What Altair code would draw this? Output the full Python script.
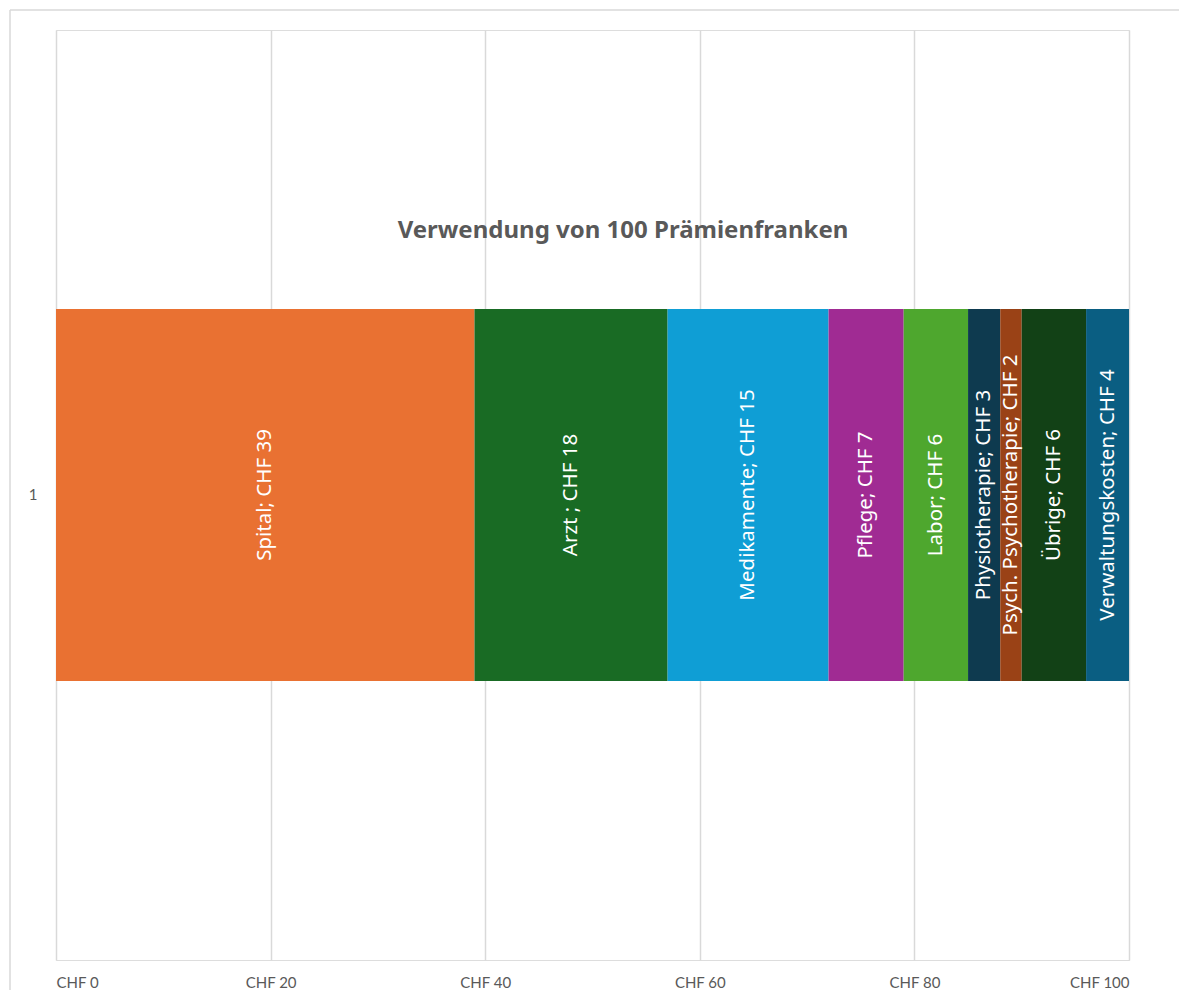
import altair as alt
import pandas as pd

title_text = "Verwendung von 100 Prämienfranken"
names = ["Spital", "Arzt ", "Medikamente", "Pflege", "Labor", "Physiotherapie",
         "Psych. Psychotherapie", "Übrige", "Verwaltungskosten"]
values = [39, 18, 15, 7, 6, 3, 2, 6, 4]
colors = ["#E97132", "#196B24", "#0F9ED5", "#A02B93", "#4EA72E", "#0E3A4F",
          "#9A4216", "#124116", "#0A5E82"]
row = "1"
ticks = [0, 20, 40, 60, 80, 100]

cum = []
s = 0
for v in values:
    cum.append(s + v / 2)
    s += v

df = pd.DataFrame({
    "name": names,
    "value": values,
    "idx": list(range(len(names))),
    "row": [row] * len(names),
    "mid": cum,
    "label": [f"{n}; CHF {v}" for n, v in zip(names, values)],
})

xscale = alt.Scale(domain=[0, 100], nice=False, zero=True)
yscale = alt.Scale(paddingInner=0.4286, paddingOuter=0.4286)

x_axis = alt.Axis(values=ticks, labelExpr="'CHF ' + datum.label", title=None,
                  ticks=False, domain=False, grid=True, gridColor="#D9D9D9",
                  gridWidth=1.5, labelColor="#595959", labelFont="Lato",
                  labelFontSize=15, labelPadding=15)
y_axis = alt.Axis(title=None, ticks=False, domain=False, grid=False,
                  labelColor="#595959", labelFont="Lato", labelFontSize=15,
                  labelPadding=19)

one = pd.DataFrame({"a": [0]})
frame_top = alt.Chart(one).mark_rule(stroke="#D9D9D9", strokeWidth=1.5, clip=False).encode(
    x=alt.value(-46), x2=alt.value(1300), y=alt.value(-20))
frame_left = alt.Chart(one).mark_rule(stroke="#D9D9D9", strokeWidth=1.5, clip=False).encode(
    x=alt.value(-46), y=alt.value(-20), y2=alt.value(1100))

bars = alt.Chart(df).mark_bar(size=372).encode(
    x=alt.X("value:Q", stack="zero", scale=xscale, axis=x_axis),
    y=alt.Y("row:N", scale=yscale, axis=y_axis),
    color=alt.Color("name:N", scale=alt.Scale(domain=names, range=colors), legend=None),
    order=alt.Order("idx:Q"),
)

labels = alt.Chart(df).mark_text(
    angle=270, color="white", font="Noto Sans", fontSize=20.5, align="center", baseline="middle"
).encode(
    x=alt.X("mid:Q", scale=xscale),
    y=alt.Y("row:N", scale=yscale),
    text="label:N",
)

title = alt.Chart(pd.DataFrame({"t": [title_text]})).mark_text(
    font="Noto Sans", fontSize=24, fontWeight="bold", color="#595959",
    align="center", baseline="middle"
).encode(x=alt.value(567), y=alt.value(201), text="t:N")

chart = alt.layer(frame_top, frame_left, bars, labels, title).properties(
    width=1073, height=930,
    autosize=alt.AutoSizeParams(type="none"),
    padding={"left": 48, "top": 22, "right": 50, "bottom": 30},
).configure_view(stroke=None).configure(background="white")

chart.save("out.html", embed_options={"renderer": "svg", "actions": False})
